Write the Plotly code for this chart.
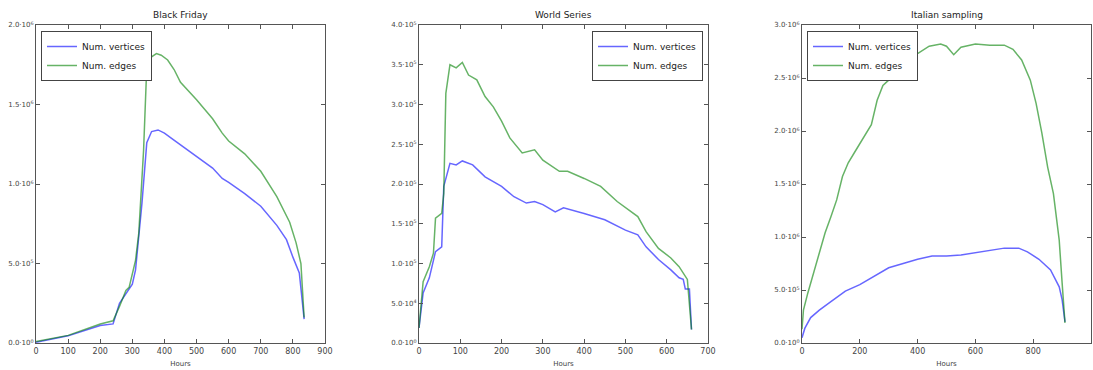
import plotly.graph_objects as go

# ---------------- data ----------------
bf_hours_e = [0, 100, 200, 240, 260, 280, 290, 310, 320, 335, 345, 360, 375, 390, 410, 430, 450, 500, 550, 580, 600, 650, 700, 750, 790, 810, 825, 835]
bf_edges = [0.01, 0.048, 0.12, 0.14, 0.23, 0.33, 0.35, 0.52, 0.69, 1.21, 1.74, 1.80, 1.82, 1.81, 1.78, 1.72, 1.64, 1.53, 1.41, 1.32, 1.27, 1.19, 1.08, 0.92, 0.76, 0.63, 0.50, 0.16]
bf_hours_v = [0, 100, 200, 240, 260, 280, 300, 310, 320, 330, 345, 360, 380, 400, 420, 450, 500, 550, 580, 600, 650, 700, 750, 780, 800, 820, 835]
bf_vertices = [0.005, 0.045, 0.11, 0.12, 0.25, 0.31, 0.37, 0.46, 0.65, 0.88, 1.26, 1.33, 1.34, 1.32, 1.29, 1.245, 1.17, 1.10, 1.035, 1.01, 0.94, 0.86, 0.74, 0.65, 0.54, 0.44, 0.15]

ws_hours_e = [0, 10, 25, 35, 40, 55, 60, 65, 75, 90, 105, 120, 140, 160, 180, 200, 220, 250, 280, 300, 340, 360, 400, 440, 480, 500, 530, 550, 580, 610, 630, 650, 660]
ws_edges = [0.19, 0.77, 0.96, 1.13, 1.57, 1.63, 1.88, 3.14, 3.50, 3.46, 3.53, 3.37, 3.31, 3.10, 2.97, 2.79, 2.58, 2.39, 2.43, 2.30, 2.16, 2.16, 2.07, 1.97, 1.78, 1.70, 1.59, 1.40, 1.19, 1.07, 0.96, 0.80, 0.17]
ws_hours_v = [0, 10, 25, 35, 40, 55, 60, 75, 90, 105, 130, 160, 200, 230, 260, 280, 300, 330, 350, 400, 450, 500, 530, 550, 580, 610, 630, 640, 645, 655, 660]
ws_vertices = [0.19, 0.63, 0.82, 1.03, 1.15, 1.21, 1.97, 2.26, 2.24, 2.29, 2.24, 2.09, 1.97, 1.84, 1.76, 1.78, 1.74, 1.65, 1.70, 1.63, 1.55, 1.42, 1.36, 1.21, 1.05, 0.92, 0.82, 0.80, 0.68, 0.68, 0.17]

it_hours_e = [0, 5, 20, 40, 60, 80, 100, 120, 140, 160, 180, 200, 220, 240, 260, 280, 300, 330, 360, 400, 440, 480, 500, 525, 550, 600, 650, 700, 730, 760, 790, 810, 830, 850, 870, 890, 900, 910]
it_edges = [0.13, 0.31, 0.47, 0.66, 0.85, 1.04, 1.19, 1.35, 1.57, 1.70, 1.79, 1.88, 1.98, 2.06, 2.29, 2.43, 2.48, 2.56, 2.68, 2.73, 2.80, 2.82, 2.80, 2.72, 2.79, 2.82, 2.81, 2.81, 2.77, 2.67, 2.48, 2.26, 1.98, 1.66, 1.41, 0.97, 0.57, 0.19]
it_hours_v = [0, 10, 30, 60, 100, 150, 200, 250, 300, 350, 400, 450, 500, 550, 600, 650, 700, 750, 780, 820, 860, 890, 900, 910]
it_vertices = [0.05, 0.14, 0.24, 0.31, 0.39, 0.49, 0.55, 0.63, 0.71, 0.75, 0.79, 0.82, 0.82, 0.83, 0.85, 0.87, 0.895, 0.895, 0.86, 0.79, 0.69, 0.53, 0.41, 0.20]

titles = ["Black Friday", "World Series", "Italian sampling"]
series_names = ["Num. vertices", "Num. edges"]

bf_yticks = [0, 0.5, 1.0, 1.5, 2.0]
bf_yticktext = ["0.0·10<sup>0</sup>", "5.0·10<sup>5</sup>", "1.0·10<sup>6</sup>", "1.5·10<sup>6</sup>", "2.0·10<sup>6</sup>"]
ws_yticks = [0, 0.5, 1.0, 1.5, 2.0, 2.5, 3.0, 3.5, 4.0]
ws_yticktext = ["0.0·10<sup>0</sup>", "5.0·10<sup>4</sup>", "1.0·10<sup>5</sup>", "1.5·10<sup>5</sup>", "2.0·10<sup>5</sup>",
                "2.5·10<sup>5</sup>", "3.0·10<sup>5</sup>", "3.5·10<sup>5</sup>", "4.0·10<sup>5</sup>"]
it_yticks = [0, 0.5, 1.0, 1.5, 2.0, 2.5, 3.0]
it_yticktext = ["0.0·10<sup>0</sup>", "5.0·10<sup>5</sup>", "1.0·10<sup>6</sup>", "1.5·10<sup>6</sup>", "2.0·10<sup>6</sup>",
                "2.5·10<sup>6</sup>", "3.0·10<sup>6</sup>"]

bf_xticks = [0, 100, 200, 300, 400, 500, 600, 700, 800, 900]
ws_xticks = [0, 100, 200, 300, 400, 500, 600, 700]
it_xticks = [0, 200, 400, 600, 800, 1000]

# ---------------- figure ----------------
BLUE = "rgba(0,0,255,0.6)"
GREEN = "rgba(0,128,0,0.6)"
FONT = "DejaVu Sans"

panels = [
    dict(title=titles[0], hv=bf_hours_v, v=bf_vertices, he=bf_hours_e, e=bf_edges,
         xr=[0, 900], xt=bf_xticks, yr=[0, 2.0], yt=bf_yticks, ytt=bf_yticktext,
         dom=[36, 325], legend=dict(x=41, y=31, anchor="left")),
    dict(title=titles[1], hv=ws_hours_v, v=ws_vertices, he=ws_hours_e, e=ws_edges,
         xr=[0, 700], xt=ws_xticks, yr=[0, 4.0], yt=ws_yticks, ytt=ws_yticktext,
         dom=[419, 708], legend=dict(x=703, y=31, anchor="right")),
    dict(title=titles[2], hv=it_hours_v, v=it_vertices, he=it_hours_e, e=it_edges,
         xr=[0, 1000], xt=it_xticks, yr=[0, 3.0], yt=it_yticks, ytt=it_yticktext,
         dom=[802, 1091], legend=dict(x=807, y=31, anchor="left")),
]

W, H = 1093, 370
TOP, BOT = 25, 343
ydom = [1 - BOT / H, 1 - TOP / H]

fig = go.Figure()
layout = dict(width=W, height=H, margin=dict(l=0, r=0, t=0, b=0, autoexpand=False),
              paper_bgcolor="white", plot_bgcolor="white",
              font=dict(family=FONT, color="#333"), showlegend=True, annotations=[])

for i, p in enumerate(panels, start=1):
    sfx = "" if i == 1 else str(i)
    lg = "legend" if i == 1 else f"legend{i}"
    fig.add_trace(go.Scatter(x=p["hv"], y=p["v"], mode="lines", name=series_names[0],
                             line=dict(color=BLUE, width=1.5), xaxis="x" + sfx, yaxis="y" + sfx,
                             legend=lg))
    fig.add_trace(go.Scatter(x=p["he"], y=p["e"], mode="lines", name=series_names[1],
                             line=dict(color=GREEN, width=1.5), xaxis="x" + sfx, yaxis="y" + sfx,
                             legend=lg))
    common = dict(showline=True, linecolor="#555", linewidth=1, mirror="ticks",
                  ticks="inside", ticklen=4, tickcolor="#555", showgrid=False, zeroline=False,
                  automargin=False)
    layout["xaxis" + sfx] = dict(domain=[p["dom"][0] / W, p["dom"][1] / W], range=p["xr"],
                                 tickvals=p["xt"], ticktext=[str(t) for t in p["xt"]],
                                 anchor="y" + sfx, tickfont=dict(size=8, color="#444"),
                                 title=dict(text="Hours", font=dict(size=7, color="#444"), standoff=6),
                                 **common)
    layout["yaxis" + sfx] = dict(domain=ydom, range=p["yr"], tickvals=p["yt"], ticktext=p["ytt"],
                                 anchor="x" + sfx, tickfont=dict(size=7, color="#444"), **common)
    L = p["legend"]
    layout[lg] = dict(x=L["x"] / W, y=1 - L["y"] / H, xanchor=L["anchor"], yanchor="top",
                      xref="paper", yref="paper",
                      bgcolor="white", bordercolor="#444", borderwidth=1,
                      font=dict(size=9, color="#222", family=FONT),
                      itemwidth=30, tracegroupgap=0)
    layout["annotations"].append(dict(text=p["title"], x=(p["dom"][0] + p["dom"][1]) / 2 / W,
                                      y=1 - (TOP - 3) / H, xref="paper", yref="paper",
                                      xanchor="center", yanchor="bottom", showarrow=False,
                                      font=dict(size=9, color="#222", family=FONT)))

fig.update_layout(**layout)
fig.write_html("out.html")
